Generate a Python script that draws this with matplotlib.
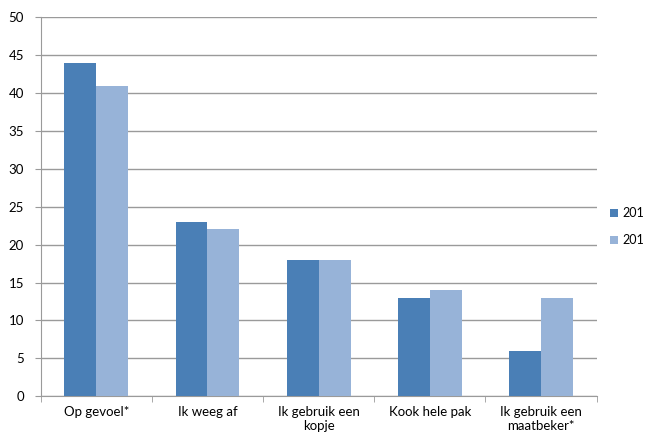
import numpy as np
import matplotlib
matplotlib.use("Agg")
import matplotlib.pyplot as plt

plt.rcParams['font.family'] = ['Lato', 'DejaVu Sans']

categories = ["Op gevoel*", "Ik weeg af", "Ik gebruik een\nkopje", "Kook hele pak",
              "Ik gebruik een\nmaatbeker*"]
series_a = [44, 23, 18, 13, 6]
series_b = [41, 22, 18, 14, 13]
legend_labels = ["201", "201"]

dark = "#4a7fb6"
light = "#97b3d8"
grey = "#9a9a9a"

fig = plt.figure(figsize=(6.45, 4.33), dpi=100)
ax = fig.add_axes([0.063, 0.085, 0.862, 0.875])

x = np.arange(len(categories))
w = 0.287
b1 = ax.bar(x - w / 2, series_a, w, color=dark, label=legend_labels[0], zorder=3)
b2 = ax.bar(x + w / 2, series_b, w, color=light, label=legend_labels[1], zorder=3)

ax.set_xlim(-0.5, len(categories) - 0.5)
ax.set_ylim(0, 50)
ax.set_yticks(range(0, 51, 5))
ax.yaxis.grid(True, color=grey, linewidth=1.0, zorder=0)

for s in ["top", "right"]:
    ax.spines[s].set_visible(False)
for s in ["left", "bottom"]:
    ax.spines[s].set_color(grey)

ax.set_xticks(x)
ax.set_xticklabels(categories, fontsize=9.5, va="top", linespacing=1.25)
ax.tick_params(axis="x", length=0, pad=7)
ax.set_xticks(np.arange(-0.5, len(categories)), minor=True)
ax.tick_params(axis="x", which="minor", length=4, color=grey)
ax.tick_params(axis="y", labelsize=9.5, length=4, color=grey, pad=8)

fig.legend(handles=[b1, b2], labels=legend_labels, loc="center left",
           bbox_to_anchor=(0.946, 0.477), frameon=False, fontsize=9,
           borderpad=0, borderaxespad=0,
           handlelength=0.6, handleheight=0.6, handletextpad=0.4, labelspacing=1.2)

fig.savefig("out.png", dpi=100)
